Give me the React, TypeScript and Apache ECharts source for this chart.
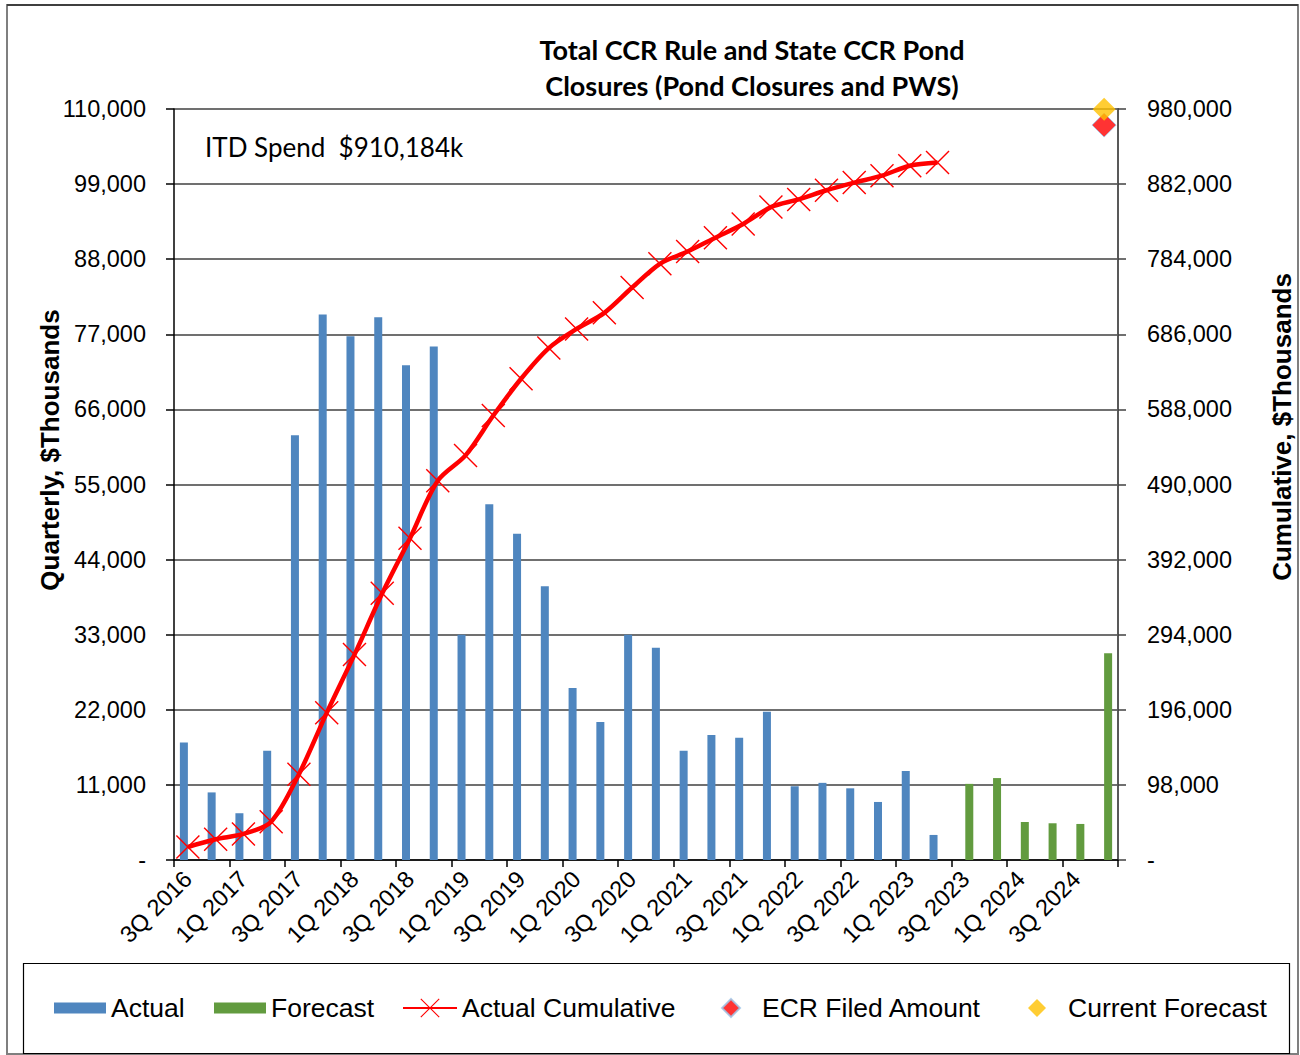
import React, { useEffect, useRef } from 'react';
import * as echarts from 'echarts';

const categories = [
  '3Q 2016', '4Q 2016',
  '1Q 2017', '2Q 2017', '3Q 2017', '4Q 2017',
  '1Q 2018', '2Q 2018', '3Q 2018', '4Q 2018',
  '1Q 2019', '2Q 2019', '3Q 2019', '4Q 2019',
  '1Q 2020', '2Q 2020', '3Q 2020', '4Q 2020',
  '1Q 2021', '2Q 2021', '3Q 2021', '4Q 2021',
  '1Q 2022', '2Q 2022', '3Q 2022', '4Q 2022',
  '1Q 2023', '2Q 2023', '3Q 2023', '4Q 2023',
  '1Q 2024', '2Q 2024', '3Q 2024', '4Q 2024',
];

const actualQuarterly = [
  17200, 9900, 6850, 16000, 62200, 79900, 76700, 79500, 72450, 75200,
  33000, 52100, 47800, 40100, 25200, 20200, 33000, 31100, 16000, 18300,
  17900, 21700, 10800, 11300, 10500, 8500, 13050, 3670,
  null, null, null, null, null, null,
];

const forecastQuarterly = [
  null, null, null, null, null, null, null, null, null, null,
  null, null, null, null, null, null, null, null, null, null,
  null, null, null, null, null, null, null, null,
  11150, 12000, 5570, 5380, 5280, 30300,
];

const actualCumulative = [
  17000, 27000, 34000, 50000, 112000, 192000, 268000, 348000, 420000, 495000,
  528000, 580000, 628000, 668000, 693000, 714000, 747000, 778000, 794000, 812000,
  830000, 852000, 862000, 874000, 884000, 893000, 906000, 910184,
  null, null, null, null, null, null,
];

const ecrFiledAmount = [959000];
const currentForecast = [979800];
const markerCategory = '4Q 2024';

const leftTicks = { min: 0, max: 110000, interval: 11000 };
const rightTicks = { min: 0, max: 980000, interval: 98000 };

const X_PATH =
  'path://M0,1 L1,0 L12,11 L23,0 L24,1 L13,12 L24,23 L23,24 L12,13 L1,24 L0,23 L11,12 Z';

const fmt = (v: number) => (v === 0 ? '-' : v.toLocaleString('en-US'));

const ARIAL = '"Liberation Sans", Arial, sans-serif';
const CAL = 'Lato, "Open Sans", sans-serif';

export default function App() {
  const ref = useRef<HTMLDivElement>(null);

  useEffect(() => {
    if (!ref.current) return;
    const chart = echarts.init(ref.current, undefined, { renderer: 'svg' });
    const legendText = { fontSize: 26.5, fontFamily: ARIAL, color: '#000', lineHeight: 28 };
    const option: any = {
      animation: false,
      backgroundColor: '#ffffff',
      grid: { left: 174, right: 182, top: 109, bottom: 195, containLabel: false },
      xAxis: {
        type: 'category',
        data: categories,
        boundaryGap: true,
        axisLine: { show: true, lineStyle: { color: '#000', width: 1.5 } },
        axisTick: { show: true, interval: 1, length: 7, lineStyle: { color: '#000', width: 1.5 } },
        axisLabel: {
          interval: 1,
          rotate: 45,
          margin: 15,
          fontSize: 23.5,
          fontFamily: ARIAL,
          color: '#000',
        },
        splitLine: { show: false },
      },
      yAxis: [
        {
          type: 'value',
          position: 'left',
          ...leftTicks,
          axisLine: { show: true, lineStyle: { color: '#000', width: 1.5 } },
          axisTick: { show: true, length: 8, lineStyle: { color: '#000', width: 1.5 } },
          axisLabel: { formatter: fmt, margin: 28, fontSize: 23.5, fontFamily: ARIAL, color: '#000' },
          splitLine: { show: true, lineStyle: { color: '#404040', width: 1.5 } },
        },
        {
          type: 'value',
          position: 'right',
          ...rightTicks,
          axisLine: { show: true, lineStyle: { color: '#595959', width: 2 } },
          axisTick: { show: true, length: 8, lineStyle: { color: '#404040', width: 1.5 } },
          axisLabel: { formatter: fmt, margin: 29, fontSize: 23.5, fontFamily: ARIAL, color: '#000' },
          splitLine: { show: false },
        },
      ],
      legend: [
        {
          data: ['Actual'], left: 54, top: 994, padding: 0,
          itemWidth: 52, itemHeight: 11, icon: 'rect', textStyle: legendText,
        },
        {
          data: ['Forecast'], left: 214, top: 994, padding: 0,
          itemWidth: 52, itemHeight: 11, icon: 'rect', textStyle: legendText,
        },
        {
          data: ['Actual Cumulative'], left: 402, top: 994, padding: 0,
          itemWidth: 54, itemHeight: 24, textStyle: legendText,
        },
        {
          data: ['ECR Filed Amount'], left: 721, top: 994, padding: 0,
          itemWidth: 18, itemHeight: 18, icon: 'diamond',
          textStyle: { ...legendText, padding: [0, 0, 0, 17] },
        },
        {
          data: ['Current Forecast'], left: 1028, top: 994, padding: 0,
          itemWidth: 18, itemHeight: 18, icon: 'diamond',
          textStyle: { ...legendText, padding: [0, 0, 0, 17] },
        },
      ],
      graphic: [
        {
          type: 'rect', z: 0, silent: true,
          shape: { x: 7, y: 5, width: 1291, height: 1049 },
          style: { fill: 'none', stroke: '#7f7f7f', lineWidth: 2 },
        },
        {
          type: 'line', z: 0, silent: true,
          shape: { x1: 7, y1: 5, x2: 1298, y2: 5 },
          style: { stroke: '#000', lineWidth: 1.2 },
        },
        {
          type: 'rect', z: 0, silent: true,
          shape: { x: 23.5, y: 963.5, width: 1266, height: 90 },
          style: { fill: 'none', stroke: '#000', lineWidth: 1.2 },
        },
        {
          type: 'text', x: 752, y: 49,
          style: {
            text: 'Total CCR Rule and State CCR Pond',
            font: `bold 27px ${CAL}`, fill: '#000', textAlign: 'center', textVerticalAlign: 'middle',
          },
        },
        {
          type: 'text', x: 752, y: 85,
          style: {
            text: 'Closures (Pond Closures and PWS)',
            font: `bold 27px ${CAL}`, fill: '#000', textAlign: 'center', textVerticalAlign: 'middle',
          },
        },
        {
          type: 'text', x: 205, y: 147,
          style: {
            text: 'ITD Spend  $910,184k',
            font: `26px ${CAL}`, fill: '#000', textAlign: 'left', textVerticalAlign: 'middle',
          },
        },
        {
          type: 'text', x: 50, y: 450, rotation: Math.PI / 2,
          style: {
            text: 'Quarterly, $Thousands',
            font: `bold 26px ${ARIAL}`, fill: '#000', textAlign: 'center', textVerticalAlign: 'middle',
          },
        },
        {
          type: 'text', x: 1282, y: 427, rotation: Math.PI / 2,
          style: {
            text: 'Cumulative, $Thousands',
            font: `bold 26px ${ARIAL}`, fill: '#000', textAlign: 'center', textVerticalAlign: 'middle',
          },
        },
      ],
      series: [
        {
          name: 'Actual', type: 'bar', yAxisIndex: 0, data: actualQuarterly,
          barWidth: 8, barGap: '0%', itemStyle: { color: '#4F86BF' }, z: 2,
        },
        {
          name: 'Forecast', type: 'bar', yAxisIndex: 0, data: forecastQuarterly,
          barWidth: 8, barGap: '0%', itemStyle: { color: '#629B3F' }, z: 2,
        },
        {
          name: 'Actual Cumulative', type: 'line', yAxisIndex: 1, data: actualCumulative,
          smooth: 0.3, symbol: X_PATH, symbolSize: 24, showSymbol: true, showAllSymbol: true,
          connectNulls: false,
          lineStyle: { color: '#FF0000', width: 4.5 }, itemStyle: { color: '#FF0000' }, z: 5,
        },
        {
          name: 'ECR Filed Amount', type: 'scatter', yAxisIndex: 1,
          data: ecrFiledAmount.map((v) => [markerCategory, v]),
          symbol: 'diamond', symbolSize: 24,
          itemStyle: { color: '#FF0000', borderColor: '#9DC3E6', borderWidth: 1 }, z: 6,
        },
        {
          name: 'Current Forecast', type: 'scatter', yAxisIndex: 1,
          data: currentForecast.map((v) => [markerCategory, v]),
          symbol: 'diamond', symbolSize: 23,
          itemStyle: { color: '#FFC000' }, z: 7,
        },
      ],
    };
    chart.setOption(option);
    return () => chart.dispose();
  }, []);

  return (
    <div
      ref={ref}
      style={{ position: 'absolute', left: 0, top: 0, width: 1300, height: 1055, background: '#fff' }}
    />
  );
}
